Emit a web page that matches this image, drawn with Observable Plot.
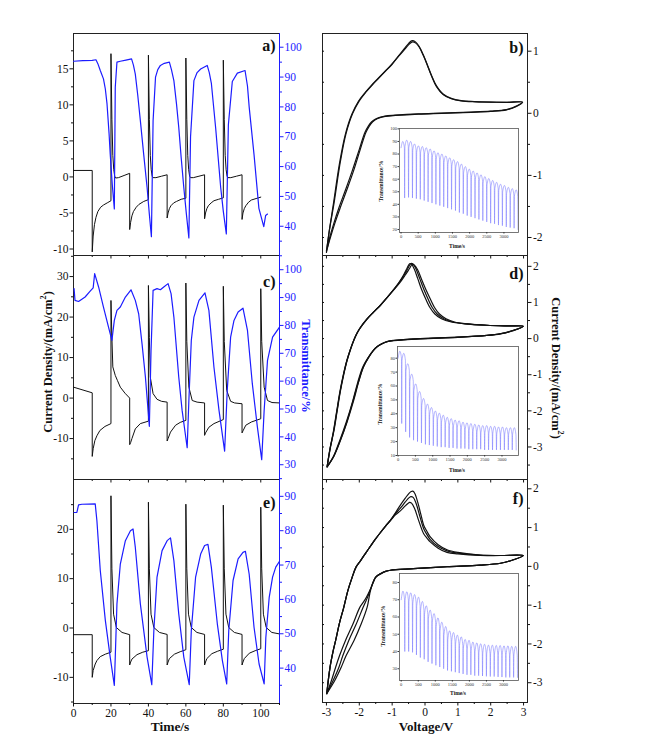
<!DOCTYPE html>
<html><head><meta charset="utf-8">
<script src="https://cdn.jsdelivr.net/npm/d3@7"></script>
<script src="https://cdn.jsdelivr.net/npm/@observablehq/plot@0.6"></script>
<style>
body{margin:0;background:#fff;}
#fig{position:relative;width:667px;height:740px;overflow:hidden;font-family:"Liberation Serif","Times New Roman",serif;}
#fig svg{position:absolute;overflow:visible;max-width:none;}
</style></head><body><div id="fig"></div>
<script>
// ---------------- data ----------------
const timeDomain = [0, 110];
const voltDomain = [-3.12, 3.12];
const timeMajor = [0, 20, 40, 60, 80, 100];
const timeMinor = [10, 30, 50, 70, 90, 110];
const voltMajor = [-3, -2, -1, 0, 1, 2, 3];
const voltMinor = [-2.5, -1.5, -0.5, 0.5, 1.5, 2.5];

// panel a
const aCurDomain = [-10.9, 19.9], aCurMajor = [-10, -5, 0, 5, 10, 15], aCurMinor = [-7.5, -2.5, 2.5, 7.5, 12.5, 17.5];
const aTrDomain = [30.2, 104.6], aTrMajor = [40, 50, 60, 70, 80, 90, 100], aTrMinor = [35, 45, 55, 65, 75, 85, 95];
const aCurrent = [[0,0.9],[10,0.9],[10,-10.4],[10.5,-8.2],[11.2,-6.6],[12,-5.6],[13,-4.8],[14.5,-4.2],[16,-3.9],[18,-3.6],[20,-3.3],
 [20,17.1],[20.5,8],[21,3],[21.5,1.0],[22,0.1],[22.5,-0.15],[24,-0.1],[27,0.2],[30,0.5],
 [30,-7.3],[30.5,-6.3],[31.2,-5.4],[32,-4.8],[33.5,-4.2],[35,-3.8],[37.5,-3.4],[40,-3.15],
 [40,16.9],[40.5,8],[41,3],[41.5,1.0],[42,0.1],[42.5,-0.1],[44,-0.1],[47,0.1],[50,0.3],
 [50,-5.7],[50.5,-5.0],[51.2,-4.4],[52,-4.0],[53.5,-3.6],[55,-3.4],[57.5,-3.1],[60,-2.95],
 [60,16.5],[60.5,8],[61,3],[61.5,1],[62,0.1],[62.5,-0.1],[64,-0.1],[67,0.1],[70,0.3],
 [70,-5.8],[70.5,-5.0],[71.2,-4.4],[72,-4.0],[73.5,-3.6],[75,-3.3],[77.5,-3.1],[80,-2.9],
 [80,16.2],[80.5,8],[81,3],[81.5,1],[82,0.1],[82.5,-0.1],[84,-0.1],[87,0.1],[90,0.3],
 [90,-5.9],[90.5,-5.0],[91.2,-4.4],[92,-4.0],[93.5,-3.5],[95,-3.2],[97.5,-3.0],[100,-2.8]];
const aTrans = [[0,95.3],[5,95.5],[10,95.6],[12,95.8],[13,94.5],[14.3,92.2],[16,89.4],[17,86],[17.9,81],[19,71],[19.6,64.2],[20.7,54],[21.8,45.8],[22.3,86.6],[23.2,95],[25,95.3],[28,95.7],[31,96.1],[32,94],[33,91],[34.3,84],[35.7,75.4],[37.5,64],[39.3,53],[40.5,44],[41.6,36.5],[42.5,75.4],[43.8,90],[45,92.5],[46.4,93.9],[48.5,94.6],[51.2,95],[52.3,92.5],[53.6,88.8],[55,81],[56.2,73.2],[57.5,63],[58.9,53],[60.3,44],[61.6,36.1],[62.5,70],[64.3,88.8],[66,91.5],[67.9,92.7],[71.4,93.9],[72.5,91.5],[73.6,88],[75.9,73],[78.6,53],[80,45],[81.6,37.4],[82.7,74],[84.8,88.5],[87.5,91.3],[91.6,92.2],[92.9,87],[93.8,80],[96.4,64],[99,46],[101.6,39.9],[102.6,43.6],[103.6,44.1]];

// panel c
const cCurDomain = [-20.1, 35.2], cCurMajor = [-10, 0, 10, 20, 30], cCurMinor = [-15, -5, 5, 15, 25, 35];
const cTrDomain = [24.7, 105.1], cTrMajor = [30, 40, 50, 60, 70, 80, 90, 100], cTrMinor = [25, 35, 45, 55, 65, 75, 85, 95, 105];
const cCurrent = [[0,2.7],[10,1.3],[10,-14.4],[10.5,-12.5],[11.4,-10.5],[12.5,-9.3],[14.1,-8.0],[16.8,-7.0],[20,-6.3],
 [20,24.1],[20.5,15],[21,7.7],[22.3,5.6],[23.5,4.3],[25,2.7],[27.5,1.2],[30,0],
 [30,-11.5],[30.5,-11],[31.2,-10],[33,-7.6],[35.7,-6.3],[40,-5.7],
 [40,27.8],[40.5,15],[41,5.2],[42.5,1.1],[44.6,-0.3],[47,-0.8],[50,-1.0],
 [50,-10.6],[50.5,-10],[51.8,-8.4],[54.5,-6.7],[57,-6.0],[60,-5.5],
 [60,28.4],[60.5,14],[61.6,2.7],[63.4,-0.6],[66,-1.0],[70,-1.2],
 [70,-9.2],[70.5,-8.6],[72.3,-7.2],[75,-6.3],[80,-5.3],
 [80,27.6],[80.5,14],[81.8,1.9],[83.9,-0.8],[86,-1.2],[90,-1.4],
 [90,-8.6],[90.5,-8.1],[92,-6.7],[95,-5.9],[100,-5.1],
 [100,27],[100.5,14],[101.8,2.7],[103.6,-0.6],[106,-1.1],[110,-1.2]];
const cTrans = [[0.3,93.2],[0.8,89],[2.7,88.6],[6.2,90.2],[8.9,92.3],[10.5,93.5],[11.3,98.6],[13.4,93.8],[16,86.6],[18.7,79.4],[20.5,74.6],[21.8,81.8],[23.2,85.4],[25,86.6],[27.7,90.2],[30.7,92.8],[33,89],[34.8,84.2],[36.6,73.4],[38.4,61.5],[40.5,43.8],[41.4,71],[42.5,92.6],[44.6,93.2],[46.4,92.8],[48.2,93.8],[50.5,95],[52.1,91.4],[53.6,83],[56.2,61.5],[58,49.5],[60.7,36.1],[61.6,53],[62.9,74.6],[64.3,83],[67,89],[70.2,91.7],[72.3,85.4],[75,65],[77.7,49.5],[80.7,34.9],[82.1,56.7],[83.9,75.8],[85.7,81.8],[87.9,84.8],[90.5,86.2],[92.9,78.2],[95.5,59],[98.2,43.5],[100.5,31.8],[101.8,49.5],[103.6,67.5],[106.3,75.8],[110,79.4]];

// panel e
const eCurDomain = [-15.3, 30.1], eCurMajor = [-10, 0, 10, 20], eCurMinor = [-15, -5, 5, 15, 25];
const eTrDomain = [29.7, 94.9], eTrMajor = [40, 50, 60, 70, 80, 90], eTrMinor = [35, 45, 55, 65, 75, 85];
const eCurrent = [[0,-1.35],[10,-1.35],[10,-10],[10.5,-8.6],[11.6,-7.3],[12.5,-6.6],[14.3,-5.8],[17,-5.3],[20,-4.9],
 [20,26.8],[20.5,12],[21.4,2.8],[22.9,0.1],[25.9,-0.9],[30,-1.35],
 [30,-7.5],[30.5,-6.9],[31.2,-6.3],[33.9,-5.4],[37,-4.9],[40,-4.6],
 [40,25.5],[40.5,12],[41.4,2.8],[42.9,0.1],[45.9,-0.9],[50,-1.3],
 [50,-7.5],[50.5,-6.9],[51.2,-6.2],[53.9,-5.3],[57,-4.8],[60,-4.4],
 [60,25.1],[60.5,12],[61.4,2.8],[62.9,0.1],[65.9,-0.9],[70,-1.3],
 [70,-7.5],[70.5,-6.9],[71.2,-6.2],[73.9,-5.2],[77,-4.7],[80,-4.3],
 [80,24.9],[80.5,12],[81.4,2.8],[82.9,0.1],[85.9,-0.9],[90,-1.3],
 [90,-7.5],[90.5,-6.9],[91.2,-6.2],[93.9,-5.1],[97,-4.6],[100,-4.2],
 [100,24.5],[100.5,12],[101.4,2.8],[102.9,0.1],[105.9,-0.9],[110,-1.2]];
const eTrans = [[0.3,85.3],[1.8,85.3],[2.7,87.5],[4.5,87.7],[11.6,87.8],[12.5,82.9],[14.3,68.4],[17,53.9],[19.6,43.2],[21.8,35],[22.3,43.2],[23.2,58.7],[25,70.3],[27.7,77.1],[30.4,80],[31.8,80.5],[33,75.2],[35.7,58.7],[39.3,43.2],[41.8,35.2],[42.9,50.9],[44.6,66.5],[47.3,74.2],[50,77.1],[51.8,77.9],[53.6,71.3],[56.2,55.8],[58.9,43.2],[61.8,35.2],[62.9,50.9],[65.2,66.5],[67.9,73.2],[70,75.7],[71.8,76],[73.6,69.4],[76.8,52.9],[79.5,42.2],[81.8,35.4],[82.9,50.9],[85.2,65.5],[87.9,71.8],[90.5,73.7],[91.8,74],[93.8,67.4],[96.4,51.9],[99.1,41.2],[101.8,35.4],[102.7,48.9],[104.5,60.6],[106.3,66.5],[108,69.4],[110,71.1]];

// panel b (CV)
const bIDomain = [-2.29, 1.285], bIMajor = [-2, -1, 0, 1], bIMinor = [-1.5, -0.5, 0.5];
const bCycle1 = [[-3.0,-2.22],[-2.9,-1.85],[-2.77,-1.45],[-2.57,-0.76],[-2.4,-0.32],[-2.2,0.0],[-2.0,0.2],[-1.8,0.34],[-1.6,0.46],[-1.4,0.57],[-1.2,0.68],[-1.0,0.79],[-0.8,0.92],[-0.6,1.04],[-0.47,1.12],[-0.38,1.15],[-0.28,1.13],[-0.17,1.06],[-0.05,0.93],[0.06,0.79],[0.2,0.6],[0.35,0.43],[0.56,0.3],[0.8,0.235],[1.1,0.2],[1.5,0.185],[2.0,0.18],[2.5,0.175],[2.97,0.18],
 [2.78,0.11],[2.48,0.055],[2.0,0.03],[1.4,0.016],[0.5,0.0],[-0.2,-0.012],[-0.9,-0.035],[-1.2,-0.05],[-1.37,-0.07],[-1.5,-0.1],[-1.6,-0.14],[-1.7,-0.21],[-1.8,-0.31],[-1.97,-0.58],[-2.17,-0.92],[-2.37,-1.22],[-2.58,-1.52],[-2.75,-1.78],[-2.88,-2.0],[-3.0,-2.22]];
const bCycle2 = [[-3.0,-2.24],[-2.91,-1.88],[-2.8,-1.5],[-2.6,-0.8],[-2.43,-0.35],[-2.23,-0.02],[-2.03,0.19],[-1.83,0.33],[-1.63,0.45],[-1.43,0.56],[-1.23,0.67],[-1.03,0.78],[-0.83,0.91],[-0.63,1.04],[-0.49,1.13],[-0.39,1.17],[-0.29,1.15],[-0.18,1.08],[-0.06,0.95],[0.05,0.81],[0.19,0.62],[0.34,0.45],[0.55,0.31],[0.8,0.24],[1.1,0.205],[1.5,0.19],[2.0,0.18],[2.5,0.178],[2.97,0.18],
 [2.78,0.115],[2.48,0.06],[2.0,0.035],[1.4,0.02],[0.5,0.004],[-0.2,-0.008],[-0.9,-0.03],[-1.22,-0.045],[-1.4,-0.07],[-1.53,-0.1],[-1.63,-0.14],[-1.73,-0.21],[-1.83,-0.31],[-2.0,-0.58],[-2.21,-0.92],[-2.41,-1.22],[-2.62,-1.52],[-2.78,-1.78],[-2.9,-2.0],[-3.0,-2.24]];

// panel d (CV)
const dIDomain = [-3.9, 2.3], dIMajor = [-3, -2, -1, 0, 1, 2], dIMinor = [-3.5, -2.5, -1.5, -0.5, 0.5, 1.5];
const dCycle1 = [[-2.98,-3.55],[-2.88,-3.0],[-2.77,-2.54],[-2.67,-1.98],[-2.57,-1.43],[-2.47,-0.98],[-2.37,-0.6],[-2.26,-0.28],[-2.16,-0.03],[-2.06,0.17],[-1.96,0.32],[-1.76,0.55],[-1.56,0.74],[-1.35,0.93],[-1.15,1.14],[-0.95,1.36],[-0.78,1.57],[-0.64,1.78],[-0.54,1.96],[-0.47,2.07],[-0.41,2.06],[-0.33,1.93],[-0.22,1.66],[-0.1,1.35],[0.04,1.06],[0.15,0.86],[0.3,0.68],[0.5,0.55],[0.8,0.46],[1.2,0.41],[1.88,0.37],[2.5,0.35],[2.99,0.34],
 [2.69,0.23],[2.3,0.14],[1.88,0.09],[1.0,0.04],[-0.14,0.0],[-0.95,-0.05],[-1.15,-0.08],[-1.31,-0.14],[-1.45,-0.22],[-1.56,-0.32],[-1.7,-0.5],[-1.87,-0.78],[-2.02,-1.2],[-2.17,-1.71],[-2.37,-2.3],[-2.57,-2.81],[-2.77,-3.25],[-2.98,-3.55]];
const dCycle2 = [[-2.98,-3.55],[-2.88,-3.02],[-2.78,-2.56],[-2.68,-2.0],[-2.58,-1.45],[-2.48,-1.0],[-2.38,-0.62],[-2.27,-0.3],[-2.17,-0.05],[-2.07,0.15],[-1.97,0.3],[-1.77,0.54],[-1.57,0.73],[-1.36,0.92],[-1.16,1.13],[-0.96,1.35],[-0.78,1.56],[-0.62,1.78],[-0.51,1.96],[-0.43,2.08],[-0.37,2.07],[-0.28,1.94],[-0.16,1.66],[-0.03,1.35],[0.11,1.06],[0.22,0.86],[0.37,0.68],[0.57,0.55],[0.85,0.46],[1.25,0.41],[1.88,0.37],[2.5,0.35],[2.99,0.34],
 [2.69,0.22],[2.3,0.13],[1.88,0.085],[1.0,0.035],[-0.14,-0.005],[-0.95,-0.055],[-1.15,-0.085],[-1.32,-0.15],[-1.47,-0.23],[-1.58,-0.33],[-1.72,-0.51],[-1.9,-0.8],[-2.05,-1.22],[-2.2,-1.73],[-2.4,-2.32],[-2.6,-2.83],[-2.79,-3.27],[-2.98,-3.55]];
const dCycle3 = [[-2.98,-3.55],[-2.89,-3.04],[-2.79,-2.58],[-2.69,-2.02],[-2.59,-1.47],[-2.49,-1.02],[-2.39,-0.64],[-2.28,-0.32],[-2.18,-0.07],[-2.08,0.13],[-1.98,0.28],[-1.78,0.52],[-1.58,0.72],[-1.37,0.91],[-1.17,1.12],[-0.97,1.33],[-0.77,1.54],[-0.6,1.76],[-0.47,1.94],[-0.39,2.05],[-0.32,2.03],[-0.22,1.9],[-0.1,1.63],[0.04,1.33],[0.18,1.06],[0.29,0.86],[0.44,0.68],[0.64,0.55],[0.9,0.46],[1.3,0.41],[1.88,0.37],[2.5,0.35],[2.99,0.34],
 [2.69,0.225],[2.3,0.135],[1.88,0.088],[1.0,0.038],[-0.14,-0.002],[-0.95,-0.052],[-1.15,-0.082],[-1.31,-0.145],[-1.46,-0.225],[-1.57,-0.325],[-1.71,-0.505],[-1.88,-0.79],[-2.03,-1.21],[-2.19,-1.72],[-2.38,-2.31],[-2.58,-2.82],[-2.78,-3.26],[-2.98,-3.55]];

// panel f (CV)
const fIDomain = [-3.51, 2.24], fIMajor = [-3, -2, -1, 0, 1, 2], fIMinor = [-2.5, -1.5, -0.5, 0.5, 1.5];
const fCycle1 = [[-2.99,-3.28],[-2.89,-2.6],[-2.8,-2.2],[-2.72,-1.91],[-2.6,-1.45],[-2.47,-1.05],[-2.35,-0.63],[-2.22,-0.29],[-2.1,-0.02],[-1.96,0.15],[-1.8,0.35],[-1.66,0.52],[-1.51,0.7],[-1.35,0.88],[-1.2,1.04],[-1.05,1.19],[-0.9,1.38],[-0.75,1.58],[-0.6,1.76],[-0.48,1.89],[-0.42,1.93],[-0.37,1.94],[-0.31,1.88],[-0.22,1.65],[-0.12,1.32],[-0.04,1.06],[0.06,0.9],[0.16,0.76],[0.4,0.56],[0.67,0.43],[1.0,0.36],[1.68,0.29],[2.3,0.28],[2.99,0.28],
 [2.69,0.17],[2.3,0.08],[1.68,0.03],[0.67,-0.01],[-0.35,-0.06],[-1.05,-0.1],[-1.2,-0.13],[-1.35,-0.19],[-1.45,-0.24],[-1.51,-0.29],[-1.6,-0.45],[-1.68,-0.7],[-1.76,-1.05],[-1.95,-1.5],[-2.16,-1.91],[-2.4,-2.3],[-2.55,-2.6],[-2.75,-2.95],[-2.99,-3.28]];
const fCycle2 = [[-2.99,-3.28],[-2.89,-2.6],[-2.8,-2.2],[-2.72,-1.91],[-2.6,-1.45],[-2.47,-1.05],[-2.35,-0.63],[-2.22,-0.29],[-2.1,-0.02],[-1.96,0.15],[-1.8,0.35],[-1.66,0.52],[-1.51,0.7],[-1.35,0.88],[-1.2,1.04],[-1.05,1.19],[-0.9,1.36],[-0.75,1.5],[-0.6,1.66],[-0.5,1.76],[-0.43,1.8],[-0.36,1.78],[-0.27,1.62],[-0.16,1.3],[-0.04,0.97],[0.06,0.82],[0.16,0.69],[0.4,0.51],[0.67,0.4],[1.0,0.34],[1.68,0.29],[2.3,0.28],[2.99,0.28],
 [2.69,0.17],[2.3,0.08],[1.68,0.03],[0.67,-0.01],[-0.35,-0.06],[-1.05,-0.1],[-1.2,-0.13],[-1.35,-0.19],[-1.45,-0.24],[-1.51,-0.29],[-1.62,-0.5],[-1.75,-0.8],[-1.88,-1.05],[-2.1,-1.5],[-2.32,-1.91],[-2.5,-2.3],[-2.62,-2.6],[-2.8,-2.95],[-2.99,-3.28]];
const fCycle3 = [[-2.99,-3.28],[-2.89,-2.6],[-2.8,-2.2],[-2.72,-1.91],[-2.6,-1.45],[-2.47,-1.05],[-2.35,-0.63],[-2.22,-0.29],[-2.1,-0.02],[-1.96,0.15],[-1.8,0.35],[-1.66,0.52],[-1.51,0.7],[-1.35,0.88],[-1.2,1.04],[-1.05,1.18],[-0.9,1.33],[-0.75,1.43],[-0.6,1.56],[-0.52,1.62],[-0.47,1.65],[-0.41,1.63],[-0.32,1.5],[-0.2,1.2],[-0.04,0.84],[0.06,0.73],[0.16,0.63],[0.4,0.47],[0.67,0.36],[1.0,0.32],[1.68,0.28],[2.3,0.28],[2.99,0.28],
 [2.69,0.17],[2.3,0.08],[1.68,0.03],[0.67,-0.01],[-0.35,-0.06],[-1.05,-0.1],[-1.2,-0.13],[-1.35,-0.19],[-1.45,-0.24],[-1.51,-0.29],[-1.64,-0.55],[-1.82,-0.85],[-1.98,-1.05],[-2.2,-1.5],[-2.42,-1.91],[-2.6,-2.3],[-2.72,-2.6],[-2.85,-2.95],[-2.99,-3.28]];

// insets: cycle start times (s), peak and valley transmittance (%) per cycle
const insetCycleStart = [0,114,228,342,456,570,684,798,912,1026,1140,1254,1368,1482,1596,1710,1824,1938,2052,2166,2280,2394,2508,2622,2736,2850,2964,3078,3192,3306];
const insetPeriod = 114;
const insetTimeTicks = [0, 500, 1000, 1500, 2000, 2500, 3000];
const bInsetPeak = [90,91,90,88,86.5,86,85,84,82.5,81,80,78.5,77,75.5,74,72,70,68,66.5,65,63.5,62,60.5,59,57.5,56,55,53.5,52.5,51.5];
const bInsetLow  = [45,45.5,45,44.5,44,43,42,41,40,39,38,37,36,35,33.5,32.5,31,30,29,28,27,26,25,24.5,23.5,23,22,21.5,21,20];
const dInsetPeak = [85,83.5,76,68.5,61.5,56,51,47,44.5,42,40.5,39,37.5,36.5,35.5,35,34,33.5,33,32.5,32,31.5,31.5,31,31,30.5,30.5,30,30,30];
const dInsetLow  = [33,27,23,21,20,19,18,17.5,17,16.5,16,16,15.5,15.5,15,15,15,14.5,14.5,14.5,14.5,14,14,14,14,14,14,14,14,14];
const fInsetPeak = [75,74.6,74,73,71.5,69,66.5,64,62,59.5,57,54.5,52,51,49.5,48.5,47,46.5,45.5,45,44.5,44.2,43.7,43.7,43.5,43.5,43.3,43.3,43,43];
const fInsetLow  = [40,40,39.5,38,36.5,35.5,34,33,32,31,30,29,28.5,28,27.5,27,26.5,26.5,26,26,25.8,25.6,25.5,25.5,25.3,25.2,25,25,25,25];

// ---------------- drawing ----------------
const fig = document.getElementById("fig");
const FONT = "Liberation Serif, Times New Roman, serif";
const fmt = d => String(d);
const blank = () => "";
const BLUE = "#1c1cff";
function put(svg, left, top) {
  svg.style.position = "absolute"; svg.style.left = left + "px"; svg.style.top = top + "px";
  svg.style.maxWidth = "none"; fig.appendChild(svg);
}
const P = {top: 10, right: 40, bottom: 30, left: 40};
function base(L, R, T, B) {
  return {width: R - L + P.left + P.right, height: B - T + P.top + P.bottom,
    marginTop: P.top, marginRight: P.right, marginBottom: P.bottom, marginLeft: P.left};
}
const xy = {x: d => d[0], y: d => d[1]};

function leftPanel(o) {
  const L = 73, R = 279;
  const black = Plot.plot({...base(L, R, o.top, o.bottom),
    x: {domain: timeDomain, axis: null}, y: {domain: o.curDomain, axis: null},
    style: {background: "transparent", color: "#111", fontFamily: FONT, fontSize: "11.5px", overflow: "visible"},
    marks: [
      Plot.frame({stroke: "#222"}),
      Plot.axisY(o.curMajor, {anchor: "left", tickSize: 3.5, tickPadding: 1.5, tickFormat: fmt, label: null}),
      Plot.axisY(o.curMinor, {anchor: "left", tickSize: 2, tickFormat: blank, label: null}),
      Plot.axisX(timeMajor, {anchor: "bottom", tickSize: 3.5, tickPadding: 2, tickFormat: o.showX ? fmt : blank, label: null}),
      Plot.axisX(timeMinor, {anchor: "bottom", tickSize: 2, tickFormat: blank, label: null}),
      Plot.line(o.cur, {...xy, stroke: "#111", strokeWidth: 1, clip: true}),
      Plot.text([o.letter], {frameAnchor: "top-right", textAnchor: "end", lineAnchor: "middle", dx: -4, dy: o.letterDy, fontWeight: "bold", fontSize: 16})
    ]});
  put(black, L - P.left, o.top - P.top);
  const blue = Plot.plot({...base(L, R, o.top, o.bottom),
    x: {domain: timeDomain, axis: null}, y: {domain: o.trDomain, axis: null},
    style: {background: "transparent", color: BLUE, fontFamily: FONT, fontSize: "11.5px", overflow: "visible"},
    marks: [
      Plot.ruleX([timeDomain[1]], {stroke: BLUE}),
      Plot.axisY(o.trMajor, {anchor: "right", tickSize: 3.5, tickPadding: 1.5, tickFormat: fmt, label: null}),
      Plot.axisY(o.trMinor, {anchor: "right", tickSize: 2, tickFormat: blank, label: null}),
      Plot.line(o.tr, {...xy, stroke: BLUE, strokeWidth: 1.2, clip: true})
    ]});
  put(blue, L - P.left, o.top - P.top);
}

function rightPanel(o) {
  const L = 322, R = 527;
  const svg = Plot.plot({...base(L, R, o.top, o.bottom),
    x: {domain: voltDomain, axis: null}, y: {domain: o.iDomain, axis: null},
    style: {background: "transparent", color: "#111", fontFamily: FONT, fontSize: "11.5px", overflow: "visible"},
    marks: [
      Plot.frame({stroke: "#222"}),
      Plot.axisY(o.iMajor, {anchor: "right", tickSize: 3.5, tickPadding: 2, tickFormat: fmt, label: null}),
      Plot.axisY(o.iMinor, {anchor: "right", tickSize: 2, tickFormat: blank, label: null}),
      Plot.axisY([...o.iMajor, ...o.iMinor], {anchor: "left", tickSize: -2, tickFormat: blank, label: null}),
      Plot.axisX(voltMajor, {anchor: "bottom", tickSize: 3.5, tickPadding: 2, tickFormat: o.showX ? fmt : blank, label: null}),
      Plot.axisX(voltMinor, {anchor: "bottom", tickSize: 2, tickFormat: blank, label: null}),
      ...o.loops.map(l => Plot.line(l, {...xy, stroke: "#111", strokeWidth: 1.2, curve: "catmull-rom", clip: true})),
      Plot.text([o.letter], {frameAnchor: "top-right", textAnchor: "end", lineAnchor: "middle", dx: -4, dy: o.letterDy, fontWeight: "bold", fontSize: 16})
    ]});
  put(svg, L - P.left, o.top - P.top);
}

function insetData(peaks, lows) {
  const rows = [];
  insetCycleStart.forEach((t0, i) => {
    rows.push([t0, peaks[i] - 5]);
    rows.push([t0 + insetPeriod * 0.45, peaks[i]]);
    rows.push([t0 + insetPeriod * 0.85, peaks[i] - 5]);
    rows.push([t0 + insetPeriod * 0.92, lows[i]]);
  });
  return rows;
}

function inset(o) {
  const [L, R, T, B] = o.frame;
  const svg = Plot.plot({width: R - L + 40, height: B - T + 30, marginLeft: 20, marginRight: 20, marginTop: 10, marginBottom: 20,
    x: {domain: o.xDomain, axis: null}, y: {domain: o.yDomain, axis: null},
    style: {background: "transparent", color: "#333", fontFamily: FONT, fontSize: "4.5px", overflow: "visible"},
    marks: [
      Plot.frame({stroke: "#555", strokeWidth: 0.8}),
      Plot.axisX(insetTimeTicks, {anchor: "bottom", tickSize: 1.5, tickPadding: 1, tickFormat: fmt, label: null, fontSize: 4.5}),
      Plot.axisY(o.yTicks, {anchor: "left", tickSize: 1.5, tickPadding: 1, tickFormat: fmt, label: null, fontSize: 4.5}),
      Plot.line(insetData(o.peaks, o.lows), {...xy, stroke: "#6a6aff", strokeWidth: 0.5, curve: "monotone-x", clip: true})
    ]});
  put(svg, L - 20, T - 10);
}

leftPanel({top: 33, bottom: 255, curDomain: aCurDomain, curMajor: aCurMajor, curMinor: aCurMinor, trDomain: aTrDomain, trMajor: aTrMajor, trMinor: aTrMinor, cur: aCurrent, tr: aTrans, letter: "a)", letterDy: 12, showX: false});
leftPanel({top: 255, bottom: 479, curDomain: cCurDomain, curMajor: cCurMajor, curMinor: cCurMinor, trDomain: cTrDomain, trMajor: cTrMajor, trMinor: cTrMinor, cur: cCurrent, tr: cTrans, letter: "c)", letterDy: 26, showX: false});
leftPanel({top: 479, bottom: 703, curDomain: eCurDomain, curMajor: eCurMajor, curMinor: eCurMinor, trDomain: eTrDomain, trMajor: eTrMajor, trMinor: eTrMinor, cur: eCurrent, tr: eTrans, letter: "e)", letterDy: 23, showX: true});

rightPanel({top: 33, bottom: 255, iDomain: bIDomain, iMajor: bIMajor, iMinor: bIMinor, loops: [bCycle1, bCycle2], letter: "b)", letterDy: 14, showX: false});
rightPanel({top: 255, bottom: 479, iDomain: dIDomain, iMajor: dIMajor, iMinor: dIMinor, loops: [dCycle1, dCycle2, dCycle3], letter: "d)", letterDy: 18, showX: false});
rightPanel({top: 479, bottom: 702, iDomain: fIDomain, iMajor: fIMajor, iMinor: fIMinor, loops: [fCycle1, fCycle2, fCycle3], letter: "f)", letterDy: 19, showX: true});

inset({frame: [399, 518, 128, 232], xDomain: [-45, 3425], yDomain: [17.6, 100.3], yTicks: [20,30,40,50,60,70,80,90,100], peaks: bInsetPeak, lows: bInsetLow});
inset({frame: [397, 518, 346, 455], xDomain: [-17, 3477], yDomain: [10, 88.4], yTicks: [10,20,30,40,50,60,70,80], peaks: dInsetPeak, lows: dInsetLow});
inset({frame: [399, 518, 573, 680], xDomain: [-50, 3440], yDomain: [23.2, 85.2], yTicks: [30,40,50,60,70,80], peaks: fInsetPeak, lows: fInsetLow});

// ---------------- titles (real text) ----------------
const NS = "http://www.w3.org/2000/svg";
const ov = document.createElementNS(NS, "svg");
ov.setAttribute("width", 667); ov.setAttribute("height", 740);
ov.style.left = "0px"; ov.style.top = "0px";
fig.appendChild(ov);
function label(parts, x, y, rot, size, fill) {
  const t = document.createElementNS(NS, "text");
  t.setAttribute("transform", `translate(${x},${y}) rotate(${rot})`);
  t.setAttribute("text-anchor", "middle");
  t.setAttribute("dominant-baseline", "central");
  t.setAttribute("font-family", FONT);
  t.setAttribute("font-weight", "bold");
  t.setAttribute("font-size", size);
  t.setAttribute("fill", fill || "#111");
  for (const p of parts) {
    const s = document.createElementNS(NS, "tspan");
    s.textContent = p.t;
    if (p.sup) { s.setAttribute("dy", -size * 0.4); s.setAttribute("font-size", size * 0.65); }
    if (p.after) s.setAttribute("dy", size * 0.4);
    t.appendChild(s);
  }
  ov.appendChild(t);
}
const cdParts = [{t: "Current Density/(mA/cm"}, {t: "2", sup: true}, {t: ")", after: true}];
label(cdParts, 48, 362, -90, 12.5);
label([{t: "Transmittance/%"}], 306, 366, 90, 12.5, BLUE);
label(cdParts, 556, 368, 90, 12.5);
label([{t: "Time/s"}], 170, 726, 0, 13.5);
label([{t: "Voltage/V"}], 426, 726, 0, 13);
label([{t: "Transmittance/%"}], 381, 181, -90, 5.5);
label([{t: "Time/s"}], 457, 246, 0, 5.5);
label([{t: "Transmittance/%"}], 380, 404, -90, 5.5);
label([{t: "Time/s"}], 457, 470, 0, 5.5);
label([{t: "Transmittance/%"}], 383, 626, -90, 5.5);
label([{t: "Time/s"}], 458, 693, 0, 5.5);
</script></body></html>
